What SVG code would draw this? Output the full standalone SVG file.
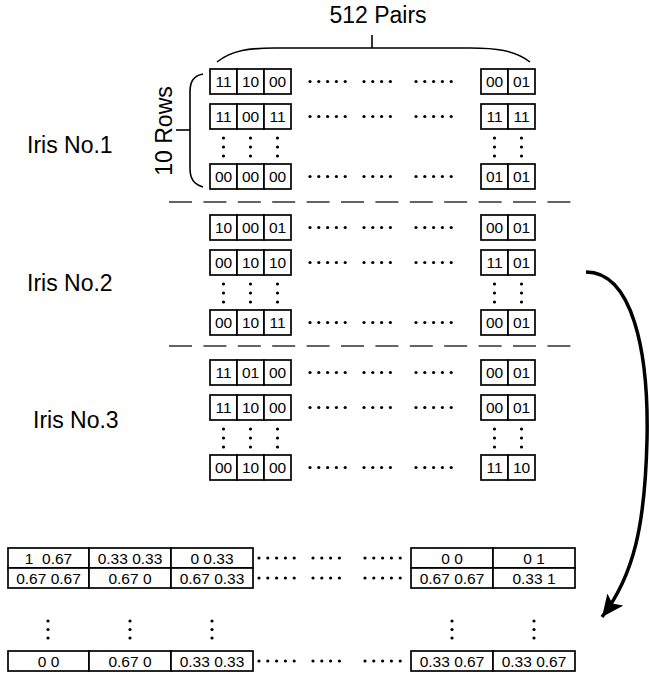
<svg xmlns="http://www.w3.org/2000/svg" xmlns:xlink="http://www.w3.org/1999/xlink" width="649" height="681" viewBox="0 0 649 681">
<style>
  .c{fill:#fff;stroke:#000;stroke-width:1.7}
  .t{font-family:"Liberation Sans",Arial,sans-serif;font-size:15.5px;text-anchor:middle;fill:#000}
  .b{font-family:"Liberation Sans",Arial,sans-serif;font-size:15.5px;text-anchor:middle;fill:#000;white-space:pre}
  .lab{font-family:"Liberation Sans",Arial,sans-serif;font-size:23px;fill:#000}
  .dash{stroke:#333;stroke-width:1.4;stroke-dasharray:23 11.4;fill:none}
  .br{fill:none;stroke:#000;stroke-width:1.6}
</style>
<defs>
  <g id="hd">
    <circle cx="0" cy="0" r="1.6"/><circle cx="8.8" cy="0" r="1.6"/><circle cx="17.6" cy="0" r="1.6"/><circle cx="26.4" cy="0" r="1.6"/><circle cx="35.2" cy="0" r="1.6"/>
    <circle cx="54" cy="0" r="1.6"/><circle cx="62.8" cy="0" r="1.6"/><circle cx="71.6" cy="0" r="1.6"/><circle cx="80.4" cy="0" r="1.6"/>
    <circle cx="106" cy="0" r="1.6"/><circle cx="114.8" cy="0" r="1.6"/><circle cx="123.6" cy="0" r="1.6"/><circle cx="132.4" cy="0" r="1.6"/><circle cx="141.2" cy="0" r="1.6"/>
  </g>
  <g id="vd"><circle cx="0" cy="-9" r="1.6"/><circle cx="0" cy="0" r="1.6"/><circle cx="0" cy="9" r="1.6"/></g>
  <g id="vdb"><circle cx="0" cy="-8.5" r="1.6"/><circle cx="0" cy="0" r="1.6"/><circle cx="0" cy="8.5" r="1.6"/></g>
  <g id="cells5">
    <rect class="c" x="210" y="0" width="27" height="25"/><rect class="c" x="237" y="0" width="27" height="25"/><rect class="c" x="264" y="0" width="27" height="25"/>
    <rect class="c" x="481" y="0" width="27" height="25"/><rect class="c" x="508" y="0" width="27" height="25"/>
  </g>
  <g id="vdots5">
    <use xlink:href="#vd" x="223.5"/><use xlink:href="#vd" x="250.5"/><use xlink:href="#vd" x="277.5"/><use xlink:href="#vd" x="494.5"/><use xlink:href="#vd" x="521.5"/>
  </g>
  <g id="bcells">
    <rect class="c" x="8" y="0" width="81" height="20"/><rect class="c" x="89" y="0" width="82" height="20"/><rect class="c" x="171" y="0" width="82" height="20"/>
    <rect class="c" x="411" y="0" width="82" height="20"/><rect class="c" x="493" y="0" width="82" height="20"/>
  </g>
  <marker id="ah" markerUnits="userSpaceOnUse" markerWidth="26" markerHeight="22" refX="22" refY="10" orient="auto" viewBox="0 0 26 22">
    <path d="M0,0 L22,10 L0,20 L5,10 Z" fill="#000"/>
  </marker>
</defs>

<g id="header">
  <text class="lab" x="378" y="23" text-anchor="middle">512 Pairs</text>
  <path class="br" d="M217,62 C232,50 250,48 275,48 L470,48 C495,48 515,50 530,62"/>
  <line class="br" x1="372" y1="35" x2="372" y2="48"/>
  <text class="lab" transform="translate(172,131) rotate(-90)" text-anchor="middle">10 Rows</text>
  <path class="br" d="M203,74 C193,76 190,82 190,92 L190,168 C190,178 193,184 203,187"/>
  <line class="br" x1="176" y1="130" x2="190" y2="130"/>
</g>

<g id="labels">
  <text class="lab" x="27" y="153">Iris No.1</text>
  <text class="lab" x="27" y="291">Iris No.2</text>
  <text class="lab" x="33" y="428">Iris No.3</text>
</g>

<g id="separators">
  <line class="dash" x1="169" y1="202" x2="572" y2="202"/>
  <line class="dash" x1="169" y1="346" x2="572" y2="346"/>
</g>

<g id="iris1">
  <use xlink:href="#cells5" y="69"/><use xlink:href="#cells5" y="104"/><use xlink:href="#cells5" y="164"/>
  <use xlink:href="#hd" x="310" y="81.5"/><use xlink:href="#hd" x="310" y="116.5"/><use xlink:href="#hd" x="310" y="176.5"/>
  <use xlink:href="#vdots5" y="147"/>
  <g class="t">
    <text x="223.5" y="87">11</text><text x="250.5" y="87">10</text><text x="277.5" y="87">00</text><text x="494.5" y="87">00</text><text x="521.5" y="87">01</text>
    <text x="223.5" y="122">11</text><text x="250.5" y="122">00</text><text x="277.5" y="122">11</text><text x="494.5" y="122">11</text><text x="521.5" y="122">11</text>
    <text x="223.5" y="182">00</text><text x="250.5" y="182">00</text><text x="277.5" y="182">00</text><text x="494.5" y="182">01</text><text x="521.5" y="182">01</text>
  </g>
</g>

<g id="iris2">
  <use xlink:href="#cells5" y="215"/><use xlink:href="#cells5" y="250"/><use xlink:href="#cells5" y="310"/>
  <use xlink:href="#hd" x="310" y="227.5"/><use xlink:href="#hd" x="310" y="262.5"/><use xlink:href="#hd" x="310" y="322.5"/>
  <use xlink:href="#vdots5" y="293"/>
  <g class="t">
    <text x="223.5" y="233">10</text><text x="250.5" y="233">00</text><text x="277.5" y="233">01</text><text x="494.5" y="233">00</text><text x="521.5" y="233">01</text>
    <text x="223.5" y="268">00</text><text x="250.5" y="268">10</text><text x="277.5" y="268">10</text><text x="494.5" y="268">11</text><text x="521.5" y="268">01</text>
    <text x="223.5" y="328">00</text><text x="250.5" y="328">10</text><text x="277.5" y="328">11</text><text x="494.5" y="328">00</text><text x="521.5" y="328">01</text>
  </g>
</g>

<g id="iris3">
  <use xlink:href="#cells5" y="360"/><use xlink:href="#cells5" y="395"/><use xlink:href="#cells5" y="455"/>
  <use xlink:href="#hd" x="310" y="372.5"/><use xlink:href="#hd" x="310" y="407.5"/><use xlink:href="#hd" x="310" y="467.5"/>
  <use xlink:href="#vdots5" y="438"/>
  <g class="t">
    <text x="223.5" y="378">11</text><text x="250.5" y="378">01</text><text x="277.5" y="378">00</text><text x="494.5" y="378">00</text><text x="521.5" y="378">01</text>
    <text x="223.5" y="413">11</text><text x="250.5" y="413">10</text><text x="277.5" y="413">00</text><text x="494.5" y="413">00</text><text x="521.5" y="413">01</text>
    <text x="223.5" y="473">00</text><text x="250.5" y="473">10</text><text x="277.5" y="473">00</text><text x="494.5" y="473">11</text><text x="521.5" y="473">10</text>
  </g>
</g>

<g id="result">
  <use xlink:href="#bcells" y="548"/><use xlink:href="#bcells" y="568"/><use xlink:href="#bcells" y="651"/>
  <use xlink:href="#hd" x="259" y="558"/><use xlink:href="#hd" x="259" y="578"/><use xlink:href="#hd" x="259" y="661"/>
  <use xlink:href="#vdb" x="48" y="629.5"/><use xlink:href="#vdb" x="130" y="629.5"/><use xlink:href="#vdb" x="212" y="629.5"/><use xlink:href="#vdb" x="452" y="629.5"/><use xlink:href="#vdb" x="534" y="629.5"/>
  <g class="b">
    <text x="48.5" y="563.5" xml:space="preserve">1  0.67</text><text x="130" y="563.5">0.33 0.33</text><text x="212" y="563.5">0 0.33</text><text x="452" y="563.5">0 0</text><text x="534" y="563.5">0 1</text>
    <text x="48.5" y="583.5">0.67 0.67</text><text x="130" y="583.5">0.67 0</text><text x="212" y="583.5">0.67 0.33</text><text x="452" y="583.5">0.67 0.67</text><text x="534" y="583.5">0.33 1</text>
    <text x="48.5" y="666.5">0 0</text><text x="130" y="666.5">0.67 0</text><text x="212" y="666.5">0.33 0.33</text><text x="452" y="666.5">0.33 0.67</text><text x="534" y="666.5">0.33 0.67</text>
  </g>
</g>

<g id="connectors">
  <path d="M586,272 C632,272 649,350 647,440 C645,525 634,575 602,617" fill="none" stroke="#000" stroke-width="3.5" marker-end="url(#ah)"/>
</g>
</svg>
